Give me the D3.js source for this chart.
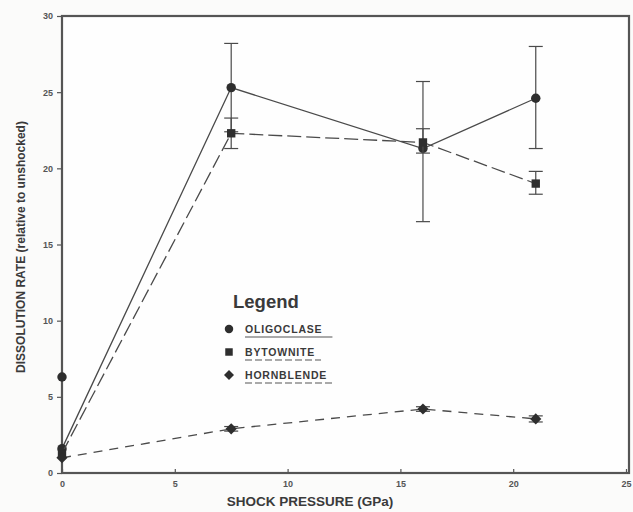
<!DOCTYPE html>
<html lang="en">
<head>
  <meta charset="UTF-8">
  <title>Dissolution rate vs shock pressure</title>
  <script src="https://d3js.org/d3.v7.min.js"></script>
  <style>
    body { margin: 0; background: #fbfbfa; }
    svg { display: block; font-family: 'Liberation Sans', Arial, sans-serif; }
  </style>
</head>
<body>
  <svg id="chart" width="633" height="512"></svg>
  <script>
    // data
    const pressures = [0, 7.5, 16, 21];
    const oligoclase = [1.6, 25.3, 21.3, 24.6];
    const oligoclaseLo = [null, 22.4, 16.5, 21.3];
    const oligoclaseHi = [null, 28.2, 25.7, 28.0];
    const bytownite = [1.3, 22.3, 21.7, 19.0];
    const bytowniteLo = [null, 21.3, 21.0, 18.3];
    const bytowniteHi = [null, 23.3, 22.6, 19.8];
    const hornblende = [1.0, 2.9, 4.2, 3.55];
    const hornblendeLo = [null, 2.75, 4.05, 3.35];
    const hornblendeHi = [null, 3.05, 4.35, 3.75];
    const extraOligoclase = [{ x: 0, y: 6.3 }];
    const xTicks = [0, 5, 10, 15, 20, 25];
    const yTicks = [0, 5, 10, 15, 20, 25, 30];

    const ink = "#3a3a3a";
    const svg = d3.select("#chart");
    const plotL = 62, plotR = 629, plotT = 16, plotB = 473;

    const x = d3.scaleLinear().domain([0, 25]).range([plotL, plotR - 3]);
    const y = d3.scaleLinear().domain([0, 30]).range([plotB, plotT]);

    // frame
    svg.append("rect")
      .attr("x", plotL).attr("y", plotT)
      .attr("width", plotR - plotL).attr("height", plotB - plotT)
      .attr("fill", "#fefefe")
      .attr("stroke", "#555").attr("stroke-width", 2.2);

    // axes
    const xAxis = svg.append("g")
      .attr("transform", `translate(0,${plotB})`)
      .call(d3.axisBottom(x).tickValues(xTicks).tickSize(-4).tickPadding(8));
    const yAxis = svg.append("g")
      .attr("transform", `translate(${plotL},0)`)
      .call(d3.axisLeft(y).tickValues(yTicks).tickSize(5).tickPadding(4));
    [xAxis, yAxis].forEach(g => {
      g.select(".domain").remove();
      g.selectAll("line").attr("stroke", "#555").attr("stroke-width", 1.2);
      g.selectAll("text")
        .attr("fill", "#555")
        .style("font-size", "9px")
        .style("font-weight", "bold");
    });

    // axis titles
    svg.append("text")
      .attr("x", 310).attr("y", 506)
      .attr("text-anchor", "middle")
      .attr("fill", ink)
      .style("font-size", "13.5px").style("font-weight", "bold")
      .text("SHOCK PRESSURE (GPa)");
    svg.append("text")
      .attr("transform", "translate(25,247) rotate(-90)")
      .attr("text-anchor", "middle")
      .attr("fill", ink)
      .style("font-size", "12px").style("font-weight", "bold")
      .text("DISSOLUTION RATE (relative to unshocked)");

    const series = [
      { name: "OLIGOCLASE", vals: oligoclase, lo: oligoclaseLo, hi: oligoclaseHi, dash: null, sym: d3.symbolCircle, size: 70 },
      { name: "BYTOWNITE", vals: bytownite, lo: bytowniteLo, hi: bytowniteHi, dash: "14,5", sym: d3.symbolSquare, size: 70 },
      { name: "HORNBLENDE", vals: hornblende, lo: hornblendeLo, hi: hornblendeHi, dash: "9,7", sym: d3.symbolDiamond2, size: 80 }
    ];

    const line = d3.line()
      .x((d, i) => x(pressures[i]))
      .y(d => y(d));

    series.forEach(s => {
      svg.append("path")
        .datum(s.vals)
        .attr("d", line)
        .attr("fill", "none")
        .attr("stroke", "#4a4a4a")
        .attr("stroke-width", 1.3)
        .attr("stroke-dasharray", s.dash);

      // error bars
      const eb = svg.append("g").attr("stroke", "#4a4a4a").attr("stroke-width", 1.2);
      pressures.forEach((p, i) => {
        if (s.lo[i] === null) return;
        const cx = x(p);
        eb.append("line").attr("x1", cx).attr("x2", cx).attr("y1", y(s.lo[i])).attr("y2", y(s.hi[i]));
        [s.lo[i], s.hi[i]].forEach(v => {
          eb.append("line").attr("x1", cx - 7).attr("x2", cx + 7).attr("y1", y(v)).attr("y2", y(v));
        });
      });

      svg.selectAll(null)
        .data(s.vals)
        .enter()
        .append("path")
        .attr("transform", (d, i) => `translate(${x(pressures[i])},${y(d)})`)
        .attr("d", d3.symbol().type(s.sym).size(s.size))
        .attr("fill", "#2e2e2e");
    });

    svg.selectAll(null)
      .data(extraOligoclase)
      .enter()
      .append("path")
      .attr("transform", d => `translate(${x(d.x)},${y(d.y)})`)
      .attr("d", d3.symbol().type(d3.symbolCircle).size(70))
      .attr("fill", "#2e2e2e");

    // legend
    const legend = svg.append("g").attr("transform", "translate(229,308)");
    legend.append("text")
      .attr("x", 4).attr("y", 0)
      .attr("fill", ink)
      .style("font-size", "18.5px").style("font-weight", "bold")
      .text("Legend");
    series.forEach((s, i) => {
      const ly = 21 + i * 23;
      legend.append("path")
        .attr("transform", `translate(0,${ly})`)
        .attr("d", d3.symbol().type(s.sym).size(s.size * 0.8))
        .attr("fill", "#2e2e2e");
      const t = legend.append("text")
        .attr("x", 16).attr("y", ly + 4)
        .attr("fill", ink)
        .style("font-size", "10.5px").style("font-weight", "bold")
        .style("letter-spacing", "0.8px")
        .text(s.name);
      const w = t.node().getComputedTextLength();
      legend.append("line")
        .attr("x1", 16).attr("x2", 16 + w + (i === 0 ? 10 : 6))
        .attr("y1", ly + 8).attr("y2", ly + 8)
        .attr("stroke", "#555").attr("stroke-width", 1)
        .attr("stroke-dasharray", s.dash ? "7,3" : null);
    });
  </script>
</body>
</html>
